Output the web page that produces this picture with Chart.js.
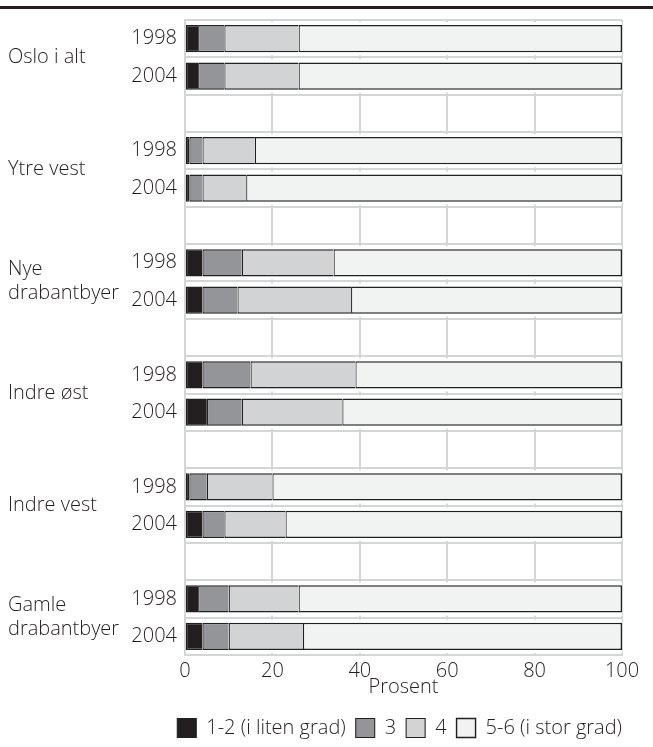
<!DOCTYPE html>
<html>
<head>
<meta charset="utf-8">
<script src="https://cdn.jsdelivr.net/npm/chart.js@4/dist/chart.umd.min.js"></script>
<style>
  html, body { margin: 0; padding: 0; background: #fff; overflow: hidden; }
  canvas { display: block; }
</style>
</head>
<body>
<canvas id="gradChart" width="653" height="747"></canvas>
<script>
// areas, each with a 1998 and a 2004 bar
const groups = ["Oslo i alt", "Ytre vest", "Nye\ndrabantbyer", "Indre øst", "Indre vest", "Gamle\ndrabantbyer"];
const years = ["1998", "2004"];

// percent per answer, ordered area by area: [1998, 2004, 1998, 2004, ...]
const grad12 = [3, 3, 1, 1, 4, 4, 4, 5, 1, 4, 3, 4];
const grad3 = [6, 6, 3, 3, 9, 8, 11, 8, 4, 5, 7, 6];
const grad4 = [17, 17, 12, 10, 21, 26, 24, 23, 15, 14, 16, 17];
const grad56 = [74, 74, 84, 86, 66, 62, 61, 64, 80, 77, 74, 73];

const seriesNames = ["1-2 (i liten grad)", "3", "4", "5-6 (i stor grad)"];
const seriesColors = ["#231f20", "#939598", "#d1d3d4", "#f1f2f2"];
const xTicks = [0, 20, 40, 60, 80, 100];

const FONT = "'Open Sans', sans-serif";
const WEIGHT = 300;
const TEXT = "#231f20";
const GRID = "#d4d5d6";

// one empty row between the areas
const rowLabels = [];
const groupRows = [];
groups.forEach((g, gi) => {
  if (gi > 0) rowLabels.push("");
  groupRows.push(rowLabels.length);
  years.forEach(y => rowLabels.push(y));
});

function toRows(values) {
  const out = [];
  groups.forEach((g, gi) => {
    if (gi > 0) out.push(null);
    years.forEach((y, yi) => out.push(values[gi * years.length + yi]));
  });
  return out;
}

const seriesValues = [grad12, grad3, grad4, grad56];
const last = seriesValues.length - 1;

const datasets = seriesValues.map((vals, i) => ({
  label: seriesNames[i],
  data: toRows(vals),
  backgroundColor: seriesColors[i],
  borderColor: TEXT,
  borderWidth: { top: 1.5, bottom: 1.5, left: 1.2, right: i === last ? 1.5 : 0 },
  borderSkipped: false,
  barPercentage: 0.73,
  categoryPercentage: 1.0
}));

// white band around each bar so the grid stops short of it
const barHalo = {
  id: "barHalo",
  beforeDatasetsDraw(chart) {
    const first = chart.getDatasetMeta(0).data;
    const end = chart.getDatasetMeta(last).data;
    const ctx = chart.ctx;
    ctx.save();
    ctx.fillStyle = "#fff";
    first.forEach((bar, i) => {
      if (chart.data.datasets[0].data[i] == null) return;
      const p = bar.getProps(["y", "base", "height"], true);
      const right = end[i].getProps(["x"], true).x;
      ctx.fillRect(p.base, p.y - p.height / 2 - 3, right - p.base, p.height + 6);
    });
    ctx.restore();
  }
};

// area names left of the year labels, plus the rule along the top
const areaLabels = {
  id: "areaLabels",
  afterDraw(chart) {
    const ctx = chart.ctx;
    const y = chart.scales.y;
    ctx.save();
    ctx.fillStyle = TEXT;
    ctx.fillRect(0, 6, chart.width, 3);
    ctx.font = WEIGHT + " 20px " + FONT;
    ctx.textAlign = "left";
    ctx.textBaseline = "middle";
    groups.forEach((g, gi) => {
      const r = groupRows[gi];
      const mid = (y.getPixelForValue(r) + y.getPixelForValue(r + 1)) / 2;
      const lines = g.split("\n");
      lines.forEach((line, li) => {
        ctx.fillText(line, 8, mid + (li - (lines.length - 1) / 2) * 24);
      });
    });
    ctx.restore();
  }
};

const font = { family: FONT, size: 20, weight: WEIGHT };

new Chart(document.getElementById("gradChart"), {
  type: "bar",
  data: { labels: rowLabels, datasets: datasets },
  options: {
    indexAxis: "y",
    responsive: false,
    animation: false,
    layout: { padding: { top: 14, right: 21, bottom: -1, left: 0 } },
    scales: {
      x: {
        stacked: true,
        min: 0,
        max: 100,
        afterBuildTicks: (s) => { s.ticks = xTicks.map(v => ({ value: v })); },
        afterFit: (s) => { s.paddingRight = 31; },
        grid: { color: GRID, lineWidth: 2, drawTicks: false },
        border: { color: GRID, width: 2 },
        ticks: { color: TEXT, font: { ...font, lineHeight: 1 }, padding: 6 },
        title: {
          display: true,
          text: "Prosent",
          color: TEXT,
          font: { ...font, lineHeight: 1 },
          padding: { top: -10, bottom: 11 }
        }
      },
      y: {
        stacked: true,
        afterFit: (s) => { s.width = 185; },
        grid: { color: GRID, lineWidth: 2, drawTicks: false },
        border: { color: GRID, width: 2 },
        ticks: { color: TEXT, font: font, padding: 8, autoSkip: false }
      }
    },
    plugins: {
      tooltip: { enabled: false },
      legend: {
        position: "bottom",
        align: "end",
        labels: {
          color: TEXT,
          font: font,
          boxWidth: 19,
          boxHeight: 19,
          padding: 10
        }
      }
    }
  },
  plugins: [barHalo, areaLabels]
});
</script>
</body>
</html>
